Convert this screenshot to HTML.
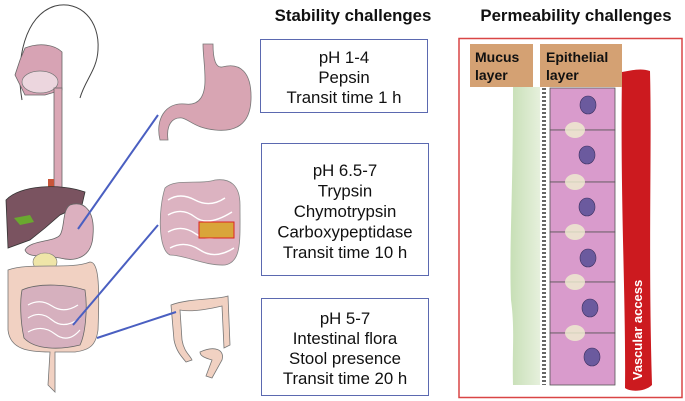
<!DOCTYPE html>
<html><head><meta charset="utf-8"><style>
html,body{margin:0;padding:0;background:#fff;width:685px;height:401px;overflow:hidden}
svg{display:block}
text{font-family:"Liberation Sans",Arial,sans-serif}
</style></head><body>
<svg width="685" height="401" viewBox="0 0 685 401" xmlns="http://www.w3.org/2000/svg">
<path d="M22,100 C15,60 25,15 55,6 C80,0 100,20 98,50 C97,70 85,80 80,98" fill="none" stroke="#444" stroke-width="1"/>
<path d="M25,48 C40,42 55,45 62,52 L62,90 L45,95 L25,95 L15,75 L20,60 Z" fill="#d7a3b4" stroke="#666" stroke-width="0.8"/>
<ellipse cx="40" cy="82" rx="18" ry="11" fill="#ecd6de" stroke="#777" stroke-width="0.7"/>
<rect x="54" y="88" width="8" height="100" fill="#dba7b5" stroke="#666" stroke-width="0.8"/>
<rect x="48" y="179" width="6" height="10" fill="#c8553a"/>
<path d="M6,200 C20,185 60,183 85,192 L82,205 L60,215 L45,228 L30,240 L8,248 Z" fill="#7a5360" stroke="#333" stroke-width="0.8"/>
<path d="M14,218 L30,215 L34,222 L20,225 Z" fill="#6aa82f"/>
<path d="M70,205 C85,200 95,212 93,235 C92,258 75,262 60,258 C40,255 28,258 25,250 C30,240 55,242 60,235 C65,228 62,210 70,205 Z" fill="#dcb0bf" stroke="#666" stroke-width="0.8"/>
<ellipse cx="45" cy="262" rx="12" ry="9" fill="#efe5a8" stroke="#777" stroke-width="0.6"/>
<path d="M8,270 C30,262 70,270 90,262 C98,262 100,280 98,330 C96,345 90,350 75,352 L55,352 L55,392 L48,385 L50,352 C30,352 10,350 8,330 Z" fill="#f1d1c2" stroke="#777" stroke-width="0.8"/>
<path d="M22,290 C40,282 70,285 85,290 C88,310 85,335 80,345 C60,350 35,350 24,338 C20,320 20,300 22,290 Z" fill="#d6b0be" stroke="#666" stroke-width="0.8"/>
<path d="M28,305 Q40,298 52,306 T78,305 M28,318 Q40,310 52,320 T80,318 M28,332 Q42,324 55,334 T80,330" fill="none" stroke="#fff" stroke-width="1.2"/>

<path d="M203,44 L213,44 C213,60 216,68 222,67 C240,62 252,72 251,100 C250,125 235,132 215,130 C195,128 190,120 182,118 C172,117 166,125 168,140 L160,140 C155,120 165,102 185,104 C200,106 205,95 205,80 C205,65 203,55 203,44 Z" fill="#d8a5b3" stroke="#777" stroke-width="0.8"/>
<path d="M165,188 C175,178 200,185 215,180 C230,178 240,185 240,205 C240,240 242,262 225,265 C205,266 185,255 170,255 C158,250 158,210 165,188 Z" fill="#dcb3c1" stroke="#888" stroke-width="0.8"/>
<path d="M168,200 Q180,192 195,200 T225,198 M168,215 Q182,207 195,217 T232,212 M168,232 Q182,224 196,234 T234,230 M170,248 Q185,240 200,250 T234,248" fill="none" stroke="#fff" stroke-width="1.4"/>
<rect x="199" y="222" width="35" height="16" fill="#d9a53a" stroke="#d22" stroke-width="1"/>
<path d="M171,305 C190,298 215,300 228,296 L230,345 L224,348 L222,306 C205,310 190,312 180,310 L182,340 C184,352 190,355 192,360 L186,362 C180,355 176,350 174,340 Z" fill="#f1d1c2" stroke="#777" stroke-width="0.8"/>
<path d="M200,352 C215,345 225,350 222,360 L212,378 L206,376 L212,360 C205,358 200,356 200,352 Z" fill="#f1d1c2" stroke="#777" stroke-width="0.8"/>

<g stroke="#4a5fc1" stroke-width="2">
<line x1="78" y1="229" x2="158" y2="115"/>
<line x1="73" y1="325" x2="158" y2="225"/>
<line x1="97" y1="338" x2="176" y2="312"/>
</g>

<text x="353" y="21" font-size="16.8" font-weight="bold" text-anchor="middle" fill="#111">Stability challenges</text>
<g fill="none" stroke="#5b69b0" stroke-width="1">
<rect x="260.5" y="39.5" width="167" height="73"/>
<rect x="261.5" y="143.5" width="167" height="132"/>
<rect x="261.5" y="298.5" width="167" height="97"/>
</g>
<g font-size="16.8" text-anchor="middle" fill="#111">
<text x="344" y="63">pH 1-4</text>
<text x="344" y="83">Pepsin</text>
<text x="344" y="103">Transit time 1 h</text>
<text x="345" y="176">pH 6.5-7</text>
<text x="345" y="196.5">Trypsin</text>
<text x="345" y="217">Chymotrypsin</text>
<text x="345" y="237.5">Carboxypeptidase</text>
<text x="345" y="258">Transit time 10 h</text>
<text x="345" y="324">pH 5-7</text>
<text x="345" y="344">Intestinal flora</text>
<text x="345" y="364">Stool presence</text>
<text x="345" y="384">Transit time 20 h</text>
</g>

<text x="576" y="21" font-size="16.8" font-weight="bold" text-anchor="middle" fill="#111">Permeability challenges</text>
<rect x="459" y="38.5" width="223" height="359" fill="none" stroke="#d94545" stroke-width="1.5"/>
<defs><linearGradient id="g" x1="0" x2="1"><stop offset="0" stop-color="#c7dfb6"/><stop offset="1" stop-color="#e6f0dc"/></linearGradient></defs>
<path d="M513,87 L540,87 L540,385 L513,385 C512,350 515,330 511,300 C509,250 513,200 513,87 Z" fill="url(#g)"/>
<g stroke="#555" stroke-width="0.8">
<rect x="550" y="88" width="65" height="42" fill="#d99bcc"/>
<rect x="550" y="130" width="65" height="52" fill="#d99bcc"/>
<rect x="550" y="182" width="65" height="50" fill="#d99bcc"/>
<rect x="550" y="232" width="65" height="50" fill="#d99bcc"/>
<rect x="550" y="282" width="65" height="51" fill="#d99bcc"/>
<rect x="550" y="333" width="65" height="52" fill="#d99bcc"/>
</g>
<g stroke="#666" stroke-width="4" stroke-dasharray="2 2">
<line x1="544" y1="88" x2="544" y2="385"/>
</g>
<g fill="#6b5a9e" stroke="#3b3060" stroke-width="0.6">
<ellipse cx="588" cy="105" rx="8" ry="9"/>
<ellipse cx="587" cy="155" rx="8" ry="9"/>
<ellipse cx="587" cy="207" rx="8" ry="9"/>
<ellipse cx="588" cy="258" rx="8" ry="9"/>
<ellipse cx="590" cy="308" rx="8" ry="9"/>
<ellipse cx="592" cy="357" rx="8" ry="9"/>
</g>
<g fill="#f0f0d0" opacity="0.8">
<ellipse cx="575" cy="130" rx="10" ry="8"/>
<ellipse cx="575" cy="182" rx="10" ry="8"/>
<ellipse cx="575" cy="232" rx="10" ry="8"/>
<ellipse cx="575" cy="282" rx="10" ry="8"/>
<ellipse cx="575" cy="333" rx="10" ry="8"/>
</g>
<path d="M622,72 C632,70 642,68 650,71 C652,150 648,250 652,385 C645,392 630,392 625,388 C626,300 620,200 622,72 Z" fill="#cc1a1f"/>
<text transform="translate(642,330) rotate(-90)" font-size="13" font-weight="bold" fill="#fff" text-anchor="middle">Vascular access</text>
<rect x="470" y="44" width="63" height="43" fill="#d4a173"/>
<rect x="540" y="44" width="82" height="43" fill="#d4a173"/>
<g font-size="14" font-weight="bold" fill="#111">
<text x="475" y="62">Mucus</text><text x="475" y="80">layer</text>
<text x="546" y="62">Epithelial</text><text x="546" y="80">layer</text>
</g>
</svg>
</body></html>
